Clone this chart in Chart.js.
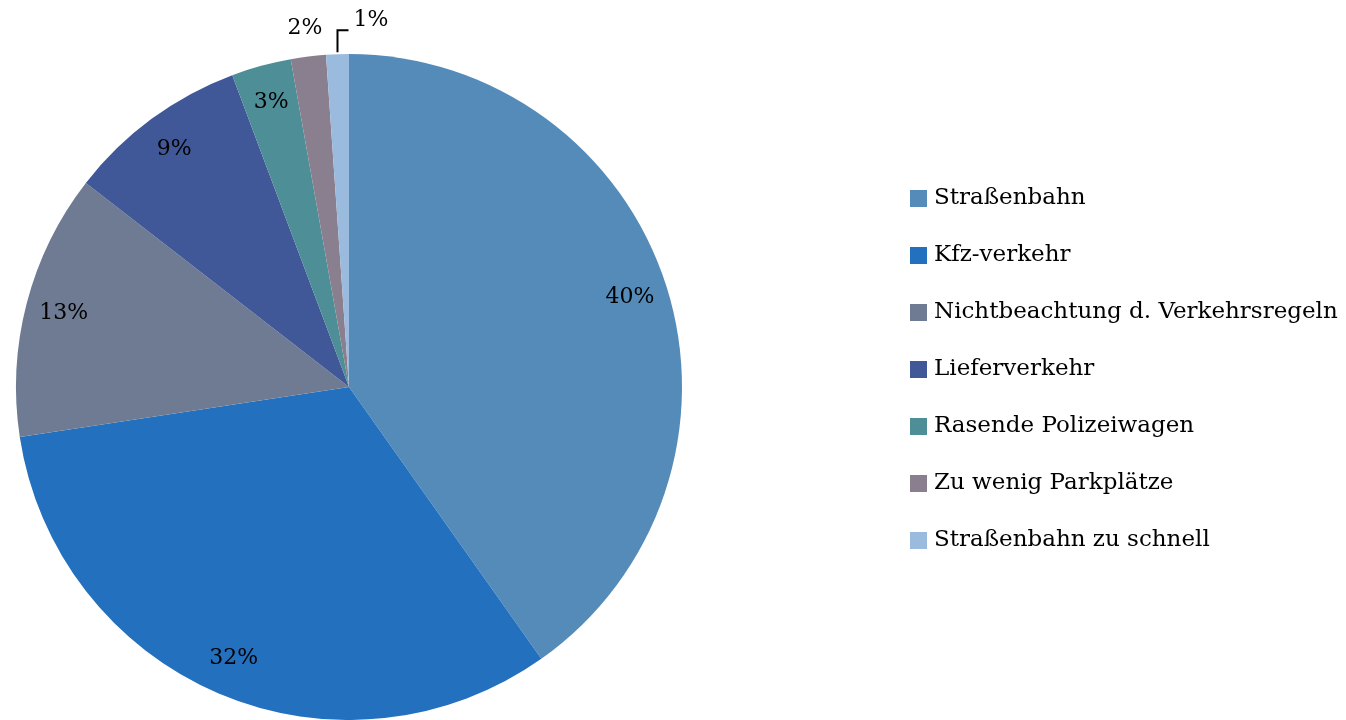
<!DOCTYPE html>
<html>
<head>
<meta charset="utf-8">
<script src="https://cdn.jsdelivr.net/npm/chart.js@4/dist/chart.umd.min.js"></script>
<style>
  html, body { margin: 0; padding: 0; background: #fff; }
  #wrap { width: 1346px; height: 720px; position: relative; }
</style>
</head>
<body>
<div id="wrap"><canvas id="pie"></canvas></div>
<script>
const categories = [
  'Straßenbahn',
  'Kfz-verkehr',
  'Nichtbeachtung d. Verkehrsregeln',
  'Lieferverkehr',
  'Rasende Polizeiwagen',
  'Zu wenig Parkplätze',
  'Straßenbahn zu schnell'
];
const shares = [40.2, 32.4, 12.9, 8.8, 2.9, 1.7, 1.1];
const colors = ['#558BB9', '#2370BE', '#6E7B92', '#415898', '#4E8E96', '#8A7F8E', '#9ABBDE'];

const FONT = '"DejaVu Serif", "Liberation Serif", serif';

// percentage labels on / beside the slices
const sliceLabels = {
  id: 'sliceLabels',
  afterDatasetsDraw(chart) {
    const ctx = chart.ctx;
    const arcs = chart.getDatasetMeta(0).data;
    const total = shares.reduce((a, b) => a + b, 0);
    ctx.save();
    ctx.fillStyle = '#000';
    ctx.font = '22px ' + FONT;
    ctx.textBaseline = 'middle';
    arcs.forEach((arc, i) => {
      const txt = Math.round(shares[i] / total * 100) + '%';
      const mid = (arc.startAngle + arc.endAngle) / 2;
      const r = arc.outerRadius;
      if (i < 5) {
        const f = 0.885;
        ctx.textAlign = 'center';
        ctx.fillText(txt, arc.x + Math.cos(mid) * r * f, arc.y + Math.sin(mid) * r * f);
      } else if (i === 5) {
        ctx.textAlign = 'center';
        ctx.fillText(txt, arc.x + Math.cos(mid) * r * 1.085, arc.y + Math.sin(mid) * r * 1.085);
      } else {
        // leader line for the smallest slice
        const x0 = arc.x + Math.cos(mid) * r;
        const y0 = arc.y + Math.sin(mid) * r - 2;
        const yTop = y0 - 22;
        ctx.strokeStyle = '#000';
        ctx.lineWidth = 2;
        ctx.beginPath();
        ctx.moveTo(x0, y0);
        ctx.lineTo(x0, yTop);
        ctx.lineTo(x0 + 11, yTop);
        ctx.stroke();
        ctx.textAlign = 'left';
        ctx.fillText(txt, x0 + 16, yTop - 10);
      }
    });
    ctx.restore();
  }
};

// legend on the right
const sideLegend = {
  id: 'sideLegend',
  afterDraw(chart) {
    const ctx = chart.ctx;
    ctx.save();
    ctx.font = '23px ' + FONT;
    ctx.textBaseline = 'middle';
    ctx.textAlign = 'left';
    categories.forEach((name, i) => {
      const y = 198 + i * 57;
      ctx.fillStyle = colors[i];
      ctx.fillRect(910, y - 8, 17, 17);
      ctx.fillStyle = '#000';
      ctx.fillText(name, 934, y);
    });
    ctx.restore();
  }
};

new Chart(document.getElementById('pie'), {
  type: 'pie',
  data: {
    labels: categories,
    datasets: [{
      data: shares,
      backgroundColor: colors,
      borderWidth: 0
    }]
  },
  options: {
    responsive: true,
    maintainAspectRatio: false,
    animation: false,
    layout: { padding: { left: 16, right: 664, top: 54, bottom: 0 } },
    plugins: {
      legend: { display: false },
      tooltip: { enabled: false }
    }
  },
  plugins: [sliceLabels, sideLegend]
});
</script>
</body>
</html>
